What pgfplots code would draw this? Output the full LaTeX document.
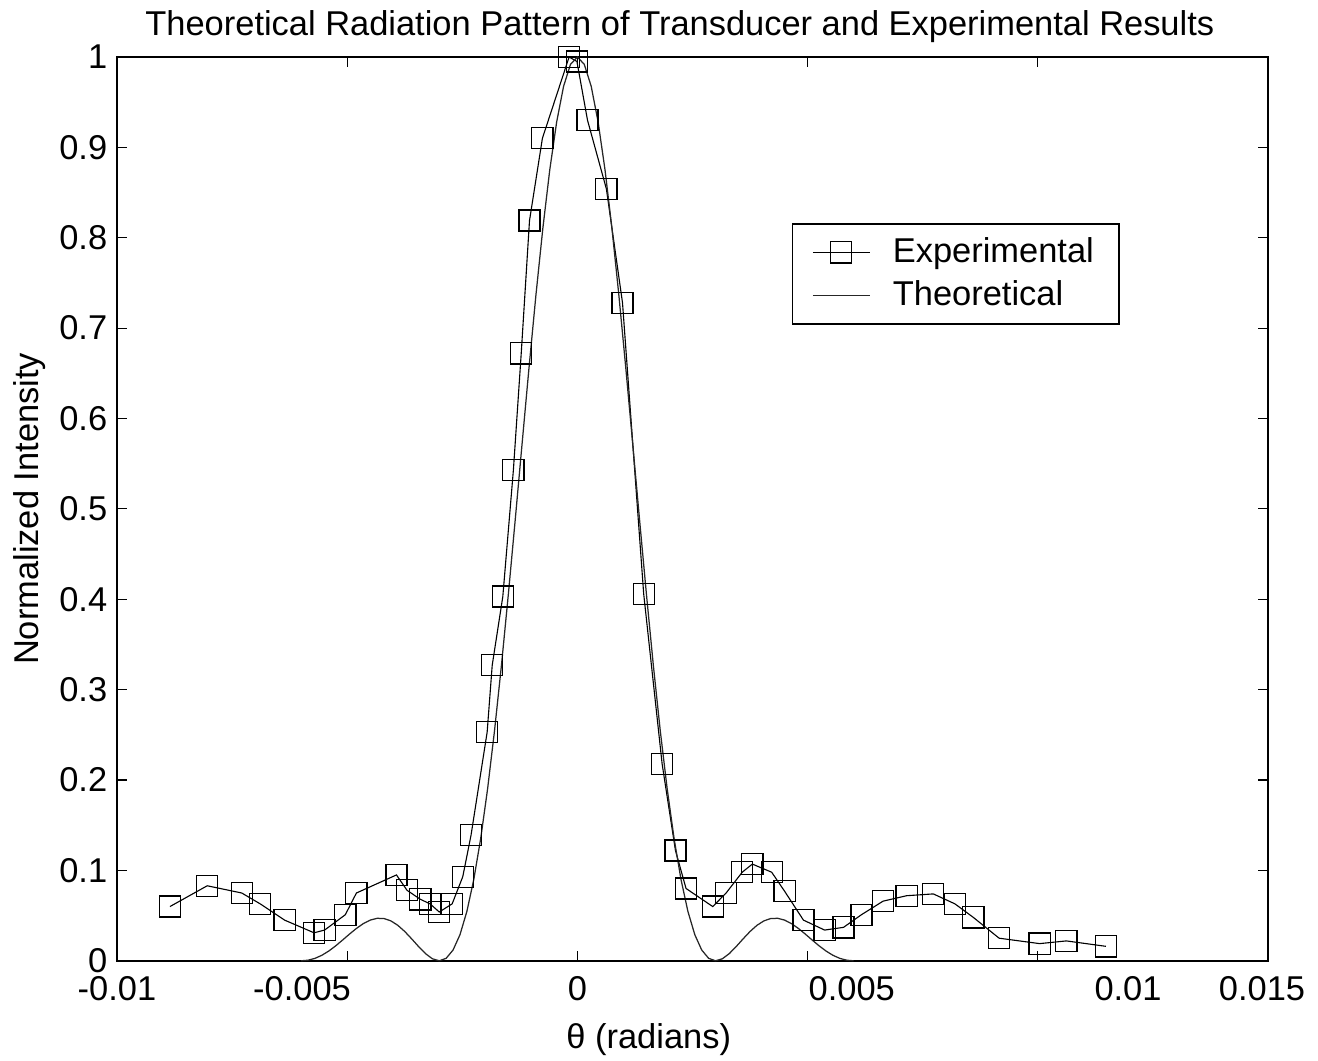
\documentclass[border=0pt]{standalone}
\usepackage{fontspec}
\setmainfont{Liberation Sans}
\usepackage{pgfplots}
\pgfplotsset{compat=1.18}
\newcommand{\ff}{\fontsize{12.4}{14.9}\selectfont}
\begin{document}
\begin{tikzpicture}
\begin{axis}[name=ax, scale only axis, width=414.4pt, height=325.4pt,
  xmin=-0.01, xmax=0.015, ymin=0, ymax=1,
  scaled x ticks=false, scaled y ticks=false,
  xtick={-0.01,-0.005,0,0.005,0.01,0.015}, xticklabels={,,,,,},
  extra x ticks={-0.01,-0.00598,0,0.00596,0.01196,0.01487},
  extra x tick labels={-0.01,-0.005,0,0.005,0.01,0.015},
  extra x tick style={major tick length=0pt, tick label style={yshift=-2pt}},
  ytick={0,0.1,0.2,0.3,0.4,0.5,0.6,0.7,0.8,0.9,1},
  yticklabels={0,0.1,0.2,0.3,0.4,0.5,0.6,0.7,0.8,0.9,1},
  tick align=inside, major tick length=3.6pt,
  tick style={line width=0.4pt, black},
  axis line style={line width=0.7pt},
  tick label style={font=\ff},
  clip=false,
  xlabel={θ (radians)},
  xlabel style={font=\ff, at={(axis description cs:0.462,0)}, anchor=center, yshift=-28.5pt},
  ylabel={Normalized Intensity},
  ylabel style={font=\ff, at={(axis description cs:-0.0755,0.5)}, anchor=center},
  legend style={at={(rel axis cs:0.5865,0.816)}, anchor=north west, font=\ff,
    draw=black, line width=0.5pt, inner xsep=7pt, inner ysep=3pt, row sep=1pt,
    cells={anchor=west}},
  legend image code/.code={\draw[mark repeat=2,mark phase=2,#1] plot coordinates {(0pt,0pt) (10.25pt,0pt) (20.5pt,0pt)};
    \path (26.6pt,0pt);},
]
\addplot[black, line width=0.4pt, mark=square, mark size=3.8pt, mark options={solid, line width=0.45pt, fill=none}] coordinates {
(-0.00885,0.060) (-0.00804,0.083) (-0.00729,0.075) (-0.00689,0.063) (-0.00636,0.045)
(-0.00572,0.031) (-0.00549,0.034) (-0.00504,0.051) (-0.00480,0.075) (-0.00393,0.095)
(-0.00370,0.078) (-0.00341,0.068) (-0.00320,0.063) (-0.00300,0.054) (-0.00272,0.063)
(-0.00249,0.093) (-0.00231,0.139) (-0.00196,0.253) (-0.00185,0.327) (-0.00162,0.403)
(-0.00139,0.543) (-0.00122,0.672) (-0.00104,0.819) (-0.00076,0.910) (-0.00018,1.000)
(-0.00001,0.995) (0.00022,0.930) (0.00063,0.854) (0.00098,0.728) (0.00144,0.406)
(0.00184,0.218) (0.00213,0.122) (0.00236,0.080) (0.00294,0.060) (0.00323,0.075)
(0.00358,0.098) (0.00380,0.107) (0.00422,0.098) (0.00450,0.077) (0.00491,0.045)
(0.00537,0.034) (0.00578,0.037) (0.00617,0.051) (0.00664,0.066) (0.00715,0.072)
(0.00773,0.074) (0.00820,0.063) (0.00860,0.048) (0.00916,0.025) (0.01004,0.019)
(0.01062,0.022) (0.01148,0.016)
};
\addlegendentry{Experimental}
\addplot[black!85, line width=0.45pt, mark=none] coordinates {
(-0.00600,0) (-0.00585,0.00065) (-0.00570,0.00268) (-0.00555,0.00610) (-0.00540,0.01080)
(-0.00525,0.01654) (-0.00510,0.02295) (-0.00495,0.02955) (-0.00480,0.03580) (-0.00465,0.04114)
(-0.00450,0.04503) (-0.00435,0.04701) (-0.00420,0.04676) (-0.00405,0.04414) (-0.00390,0.03924)
(-0.00375,0.03242) (-0.00360,0.02431) (-0.00345,0.01579) (-0.00330,0.00800) (-0.00315,0.00225)
(-0.00300,0) (-0.00285,0.00275) (-0.00270,0.01195) (-0.00255,0.02890) (-0.00240,0.05470)
(-0.00225,0.09006) (-0.00210,0.13534) (-0.00195,0.19038) (-0.00180,0.25457) (-0.00165,0.32675)
(-0.00150,0.40528) (-0.00135,0.48811) (-0.00120,0.57279) (-0.00105,0.65664) (-0.00090,0.73684)
(-0.00075,0.81058) (-0.00060,0.87514) (-0.00045,0.92814) (-0.00030,0.96755) (-0.00015,0.99180)
(0,1)
(0.00015,0.99180) (0.00030,0.96755) (0.00045,0.92814) (0.00060,0.87514) (0.00075,0.81058)
(0.00090,0.73684) (0.00105,0.65664) (0.00120,0.57279) (0.00135,0.48811) (0.00150,0.40528)
(0.00165,0.32675) (0.00180,0.25457) (0.00195,0.19038) (0.00210,0.13534) (0.00225,0.09006)
(0.00240,0.05470) (0.00255,0.02890) (0.00270,0.01195) (0.00285,0.00275) (0.00300,0)
(0.00315,0.00225) (0.00330,0.00800) (0.00345,0.01579) (0.00360,0.02431) (0.00375,0.03242)
(0.00390,0.03924) (0.00405,0.04414) (0.00420,0.04676) (0.00435,0.04701) (0.00450,0.04503)
(0.00465,0.04114) (0.00480,0.03580) (0.00495,0.02955) (0.00510,0.02295) (0.00525,0.01654)
(0.00540,0.01080) (0.00555,0.00610) (0.00570,0.00268) (0.00585,0.00065) (0.00600,0)
};
\addlegendentry{Theoretical}
\node[font=\ff, anchor=center] at (rel axis cs:0.489,1.0332) {Theoretical Radiation Pattern of Transducer and Experimental Results};
\end{axis}
\pgfresetboundingbox
\path ([shift={(-42.12pt,-36pt)}]ax.south west) rectangle ([shift={(18pt,20.52pt)}]ax.north east);
\end{tikzpicture}
\end{document}
